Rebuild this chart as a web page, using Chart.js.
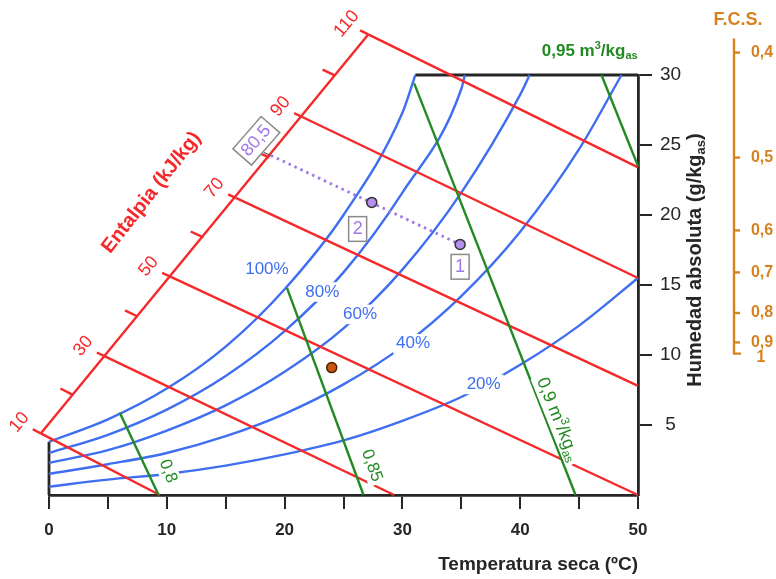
<!DOCTYPE html>
<html>
<head>
<meta charset="utf-8">
<script src="https://cdn.jsdelivr.net/npm/chart.js@4.4.1/dist/chart.umd.min.js"></script>
<style>body{margin:0;background:#fff}</style>
</head>
<body>
<canvas id="chart" width="776" height="579"></canvas>
<script>
// axis ticks
const xTicks = [0, 5, 10, 15, 20, 25, 30, 35, 40, 45, 50];
const yTicks = [5, 10, 15, 20, 25, 30];

// relative humidity curves, [T (ºC), w (g/kg)]
const rhNames = ['100%', '80%', '60%', '40%', '20%'];
const rh100 = [[0,3.8],[5,5.4],[10,7.6],[15,10.6],[20,14.7],[25,20.0],[30,27.3],[31.1,30]];
const rh80  = [[0,3.0],[5,4.3],[10,6.1],[15,8.5],[20,11.7],[25,15.9],[30,21.6],[35,29.0],[35.3,30]];
const rh60  = [[0,2.3],[5,3.2],[10,4.6],[15,6.4],[20,8.8],[25,11.9],[30,16.1],[35,21.6],[40,28.6],[40.8,30]];
const rh40  = [[0,1.5],[5,2.2],[10,3.0],[15,4.2],[20,5.8],[25,7.9],[30,10.6],[35,14.2],[40,18.8],[45,24.7],[48.6,30]];
const rh20  = [[0,0.6],[5,1.1],[10,1.5],[15,2.1],[20,2.9],[25,3.9],[30,5.3],[35,7.0],[40,9.3],[45,12.1],[50,15.5]];
const rhLabelAt = [[18.5,16.1],[23.2,14.5],[26.4,12.9],[30.9,10.8],[36.9,7.9]];

// enthalpy lines (kJ/kg): start on the enthalpy scale, end on the frame
const hValues = [10, 30, 50, 70, 90, 110];
const hStart = [[-0.7,4.4],[4.75,9.9],[10.3,15.6],[15.9,21.2],[21.5,27.0],[27.1,32.9]];
const hEnd   = [[9.4,0],[29.3,0],[50,0],[50,7.8],[50,15.5],[50,23.4]];

// specific volume lines (m3/kg)
const vNames = ['0,8', '0,85', '0,9', '0,95'];
const vStart = [[6.0,5.9],[20.2,14.8],[31.0,29.4],[46.9,30]];
const vEnd   = [[9.3,0],[26.7,0],[44.7,0],[50,23.5]];
const vLabelAt = [[10.1,1.7],[27.4,2.1],[43.2,5.4],[45.9,31.7]];

// states and the 80,5 kJ/kg process
const state1 = [34.9, 17.9];
const state2 = [27.4, 20.9];
const stateRef = [24.0, 9.1];
const hProcess = '80,5';
const processLine = [[18.84,24.25],[34.9,17.9]];
const processLabelAt = [17.6, 25.3];
const stateLabelAt = [[34.9,16.3],[26.2,19.0]];

// F.C.S. scale (positions on the humidity scale)
const fcsLabels = ['0,4', '0,5', '0,6', '0,7', '0,8', '0,9', '1'];
const fcsPos = [31.6, 24.1, 18.9, 15.9, 13.0, 10.9, 10.1];

const RED = '#f5282a', BLUE = '#3f6ff0', GREEN = '#238a23', PURPLE = '#9f78e8', ORANGE = '#d8821f', INK = '#262626';
const FONT = '"Liberation Sans", Arial, sans-serif';

const pts = a => a.map(p => ({x: p[0], y: p[1]}));
const line = (data, color, extra) => Object.assign({
    data: pts(data), borderColor: color, borderWidth: 2.4, pointRadius: 0, fill: false, clip: false
}, extra);

// rich text: parts are [text, 0 normal | 1 superscript | -1 subscript]
function drawParts(ctx, parts, x, y, angle, o) {
    ctx.save();
    ctx.translate(x, y);
    ctx.rotate(angle * Math.PI / 180);
    const fontOf = k => (o.bold ? 'bold ' : '') + (k ? Math.round(o.size * 0.65) : o.size) + 'px ' + FONT;
    let w = 0;
    parts.forEach(p => { ctx.font = fontOf(p[1]); w += ctx.measureText(p[0]).width; });
    const h = o.size * 1.15, pad = o.pad || 0, padY = o.padY || 0;
    if (o.bg) { ctx.fillStyle = '#fff'; ctx.fillRect(-w / 2 - pad, -h / 2 - padY, w + 2 * pad, h + 2 * padY); }
    if (o.border) {
        ctx.strokeStyle = o.border; ctx.lineWidth = 1.5;
        ctx.strokeRect(-w / 2 - pad, -h / 2 - padY, w + 2 * pad, h + 2 * padY);
    }
    ctx.fillStyle = o.color; ctx.textBaseline = 'middle'; ctx.textAlign = 'left';
    let cx = -w / 2;
    parts.forEach(p => {
        ctx.font = fontOf(p[1]);
        const dy = p[1] === 1 ? -o.size * 0.3 : p[1] === -1 ? o.size * 0.3 : 0;
        ctx.fillText(p[0], cx, dy);
        cx += ctx.measureText(p[0]).width;
    });
    ctx.restore();
}

const decor = {
    id: 'decor',
    afterDatasetsDraw(chart) {
        const ctx = chart.ctx, xs = chart.scales.x, ys = chart.scales.y, area = chart.chartArea;
        const P = p => [xs.getPixelForValue(p[0]), ys.getPixelForValue(p[1])];
        ctx.save();

        // enthalpy scale
        const ax = hStart.map(P);
        ctx.strokeStyle = RED; ctx.lineWidth = 2.4;
        ctx.beginPath(); ctx.moveTo(ax[0][0], ax[0][1]); ctx.lineTo(ax[ax.length - 1][0], ax[ax.length - 1][1]); ctx.stroke();
        ax.forEach((a, i) => {
            const e = P(hEnd[i]);
            const len = Math.hypot(a[0] - e[0], a[1] - e[1]);
            const u = [(a[0] - e[0]) / len, (a[1] - e[1]) / len];
            ctx.beginPath(); ctx.moveTo(a[0], a[1]); ctx.lineTo(a[0] + u[0] * 9, a[1] + u[1] * 9); ctx.stroke();
            drawParts(ctx, [[String(hValues[i]), 0]], a[0] + u[0] * 24, a[1] + u[1] * 24, -50, {size: 18, color: RED});
            if (i < ax.length - 1) {
                const m = [(a[0] + ax[i + 1][0]) / 2, (a[1] + ax[i + 1][1]) / 2];
                ctx.beginPath(); ctx.moveTo(m[0], m[1]); ctx.lineTo(m[0] + u[0] * 14, m[1] + u[1] * 14); ctx.stroke();
            }
        });
        const ent = P([8.7, 21.6]);
        drawParts(ctx, [['Entalpia (kJ/kg)', 0]], ent[0], ent[1], -52, {size: 20, bold: true, color: RED});

        // process tick on the enthalpy scale and its value
        const pa = P(processLine[0]);
        ctx.strokeStyle = '#555'; ctx.lineWidth = 1.2;
        ctx.beginPath(); ctx.moveTo(pa[0], pa[1]); ctx.lineTo(pa[0] - 7, pa[1] - 3); ctx.stroke();
        const pl = P(processLabelAt);
        drawParts(ctx, [[hProcess, 0]], pl[0], pl[1], -49, {size: 18, color: PURPLE, bg: true, border: '#8a8a8a', pad: 4, padY: 2});
        stateLabelAt.forEach((s, i) => {
            const q = P(s);
            drawParts(ctx, [[String(i + 1), 0]], q[0], q[1], 0, {size: 18, color: PURPLE, bg: true, border: '#8a8a8a', pad: 4, padY: 2});
        });

        // relative humidity labels
        rhNames.forEach((n, i) => {
            const q = P(rhLabelAt[i]);
            drawParts(ctx, [[n, 0]], q[0], q[1], 0, {size: 17, color: BLUE, bg: true, pad: 3});
        });

        // specific volume labels
        let q = P(vLabelAt[0]);
        drawParts(ctx, [[vNames[0], 0]], q[0], q[1], 70, {size: 17, color: GREEN, bg: true, pad: 3});
        q = P(vLabelAt[1]);
        drawParts(ctx, [[vNames[1], 0]], q[0], q[1], 70, {size: 17, color: GREEN, bg: true, pad: 3});
        q = P(vLabelAt[2]);
        drawParts(ctx, [[vNames[2] + ' m', 0], ['3', 1], ['/kg', 0], ['as', -1]], q[0], q[1], 68, {size: 18, color: GREEN, bg: true, pad: 3});
        q = P(vLabelAt[3]);
        drawParts(ctx, [[vNames[3] + ' m', 0], ['3', 1], ['/kg', 0], ['as', -1]], q[0], q[1], 0, {size: 17, bold: true, color: GREEN});

        // humidity axis title
        drawParts(ctx, [['Humedad absoluta (g/kg', 0], ['as', -1], [')', 0]], area.right + 57, 260, -90, {size: 20, bold: true, color: INK});

        // F.C.S. scale
        const fx = area.right + 96;
        const top = ys.getPixelForValue(32.6), bot = ys.getPixelForValue(fcsPos[fcsPos.length - 1]);
        ctx.strokeStyle = ORANGE; ctx.lineWidth = 2.4;
        ctx.beginPath(); ctx.moveTo(fx, top); ctx.lineTo(fx, bot); ctx.lineTo(fx + 7, bot); ctx.stroke();
        fcsPos.forEach((v, i) => {
            const y = ys.getPixelForValue(v);
            if (i < fcsPos.length - 1) {
                ctx.beginPath(); ctx.moveTo(fx, y); ctx.lineTo(fx + 6, y); ctx.stroke();
                drawParts(ctx, [[fcsLabels[i], 0]], fx + 28, y, 0, {size: 16, bold: true, color: ORANGE});
            } else {
                drawParts(ctx, [[fcsLabels[i], 0]], fx + 27, y + 4, 0, {size: 16, bold: true, color: ORANGE});
            }
        });
        drawParts(ctx, [['F.C.S.', 0]], fx + 4, 20, 0, {size: 18, bold: true, color: ORANGE});
        ctx.restore();
    }
};

const pointStyle = (p, fill, edge) => ({
    data: pts([p]), showLine: false, pointRadius: 5, pointBackgroundColor: fill,
    pointBorderColor: edge, pointBorderWidth: 1.5, clip: false
});

new Chart(document.getElementById('chart'), {
    type: 'line',
    data: {
        datasets: [
            pointStyle(state1, '#b48ff0', '#333'),
            pointStyle(state2, '#b48ff0', '#333'),
            pointStyle(stateRef, '#c9570f', '#4a2200'),
            line(processLine, PURPLE, {borderWidth: 2.8, borderDash: [2.5, 4]}),
            ...vStart.map((s, i) => line([s, vEnd[i]], GREEN)),
            ...hStart.map((s, i) => line([s, hEnd[i]], RED)),
            ...[rh100, rh80, rh60, rh40, rh20].map(c => line(c, BLUE, {cubicInterpolationMode: 'monotone'})),
            line([[0, 0], [0, rh100[0][1]]], INK, {borderWidth: 2.8}),
            line([[rh100[rh100.length - 1][0], 30], [50, 30]], INK, {borderWidth: 2.8})
        ]
    },
    options: {
        responsive: false,
        animation: false,
        events: [],
        layout: {padding: {left: 49, top: 75, right: 0, bottom: 0}},
        plugins: {legend: {display: false}, tooltip: {enabled: false}},
        scales: {
            x: {
                type: 'linear', min: 0, max: 50,
                afterBuildTicks: s => { s.ticks = xTicks.map(v => ({value: v})); },
                afterFit: s => { s.height = 84; },
                grid: {drawOnChartArea: false, tickLength: 14, color: INK, lineWidth: 2},
                border: {color: INK, width: 2.8},
                ticks: {
                    callback: v => (v % 10 === 0 ? v : ''), autoSkip: false, maxRotation: 0,
                    padding: 11, color: INK, font: {family: FONT, size: 17, weight: 'bold'}
                },
                title: {
                    display: true, text: 'Temperatura seca (ºC)', align: 'end', color: INK,
                    font: {family: FONT, size: 19, weight: 'bold'}, padding: {top: 0, bottom: 3}
                }
            },
            y: {
                type: 'linear', position: 'right', min: 0, max: 30,
                afterBuildTicks: s => { s.ticks = yTicks.map(v => ({value: v})); },
                afterFit: s => { s.width = 138; },
                grid: {drawOnChartArea: false, tickLength: 14, color: INK, lineWidth: 2},
                border: {color: INK, width: 2.8},
                ticks: {padding: 8, crossAlign: 'center', color: INK, font: {family: FONT, size: 19}}
            }
        }
    },
    plugins: [decor]
});
</script>
</body>
</html>
